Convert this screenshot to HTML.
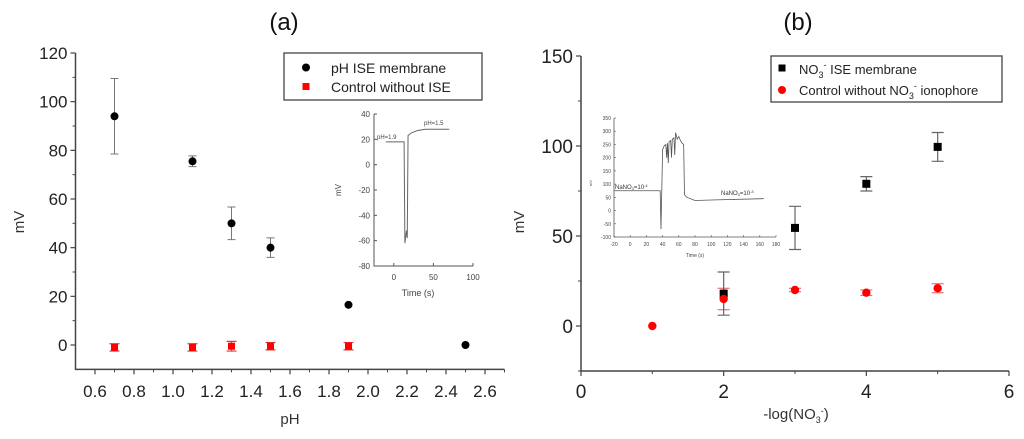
<!DOCTYPE html>
<html><head><meta charset="utf-8">
<style>
html,body{margin:0;padding:0;background:#fff;}
svg{display:block;font-family:"Liberation Sans",Arial,sans-serif;}
</style></head>
<body>
<svg id="c" width="1024" height="439" viewBox="0 0 1024 439" xmlns="http://www.w3.org/2000/svg"></svg>
<script>
// ---- Panel (a) data ----
const aX = [0.7, 1.1, 1.3, 1.5, 1.9, 2.5];
const aBlack = [94, 75.5, 50, 40, 16.5, 0];
const aBlackErr = [15.5, 2.2, 6.7, 4, 0, 0];
const aRedX = [0.7, 1.1, 1.3, 1.5, 1.9];
const aRed = [-1, -1, -0.5, -0.5, -0.5];
const aRedErr = [1.5, 1.5, 2, 1.5, 1.5];
const aYTicks = [0, 20, 40, 60, 80, 100, 120];
const aXTicks = [0.6, 0.8, 1.0, 1.2, 1.4, 1.6, 1.8, 2.0, 2.2, 2.4, 2.6];
const aInsetT = [-10, 13, 14, 16, 17, 18, 22, 30, 40, 70];
const aInsetV = [18, 18, -62, -52, -58, 23, 25, 27, 28, 28];
const aInsetYTicks = [-80, -60, -40, -20, 0, 20, 40];
const aInsetXTicks = [0, 50, 100];
// ---- Panel (b) data ----
const bBlackX = [2, 3, 4, 5];
const bBlack = [18, 54.5, 79, 99.5];
const bBlackErr = [12, 12, 4, 8];
const bRedX = [1, 2, 3, 4, 5];
const bRed = [0, 15, 20, 18.5, 21];
const bRedErr = [0, 6, 1, 1.5, 2.5];
const bYTicks = [0, 50, 100, 150];
const bXTicks = [0, 2, 4, 6];
const bInsetT = [-20, 37, 38, 40, 42, 44, 45, 46, 47, 48, 50, 51, 52, 54, 55, 56, 58, 60, 62, 64, 66, 67, 70, 80, 100, 165];
const bInsetV = [75, 75, -70, 230, 245, 250, 200, 255, 180, 260, 265, 200, 270, 275, 210, 295, 270, 280, 265, 255, 250, 60, 50, 38, 40, 45];
const bInsetYTicks = [-100, -50, 0, 50, 100, 150, 200, 250, 300, 350];
const bInsetXTicks = [-20, 0, 20, 40, 60, 80, 100, 120, 140, 160, 180];

const NS = "http://www.w3.org/2000/svg";
const svg = document.getElementById('c');
function el(tag, attrs, parent, text) {
  const e = document.createElementNS(NS, tag);
  for (const k in attrs) e.setAttribute(k, attrs[k]);
  if (text !== undefined) e.textContent = text;
  (parent || svg).appendChild(e);
  return e;
}
function lin(d0, d1, r0, r1) { return v => r0 + (v - d0) * (r1 - r0) / (d1 - d0); }

// ===== Panel (a) =====
const ax = lin(0.5, 2.7, 75.5, 504.5);
const ay = lin(0, 120, 345, 53);
let g = el('g', {});


let t = el('text', {x: 284, y: 30, 'font-size': 24, 'text-anchor': 'middle', fill: '#111'}, g, '(a)');
 
let axl = el('path', {d: `M${ax(0.5)},${ay(120)}V${ay(-10)}H${ax(2.7)}`, stroke: '#444', 'stroke-width': 1.5, fill: 'none'}, g);
 
aYTicks.forEach(v => {
  el('line', {x1: ax(0.5) - 5, x2: ax(0.5), y1: ay(v), y2: ay(v), stroke: '#444', 'stroke-width': 1.2}, g);
  if (v < 120) el('line', {x1: ax(0.5) - 3, x2: ax(0.5), y1: ay(v + 10), y2: ay(v + 10), stroke: '#444', 'stroke-width': 1}, g);
  const l = el('text', {x: ax(0.5) - 8, y: ay(v) + 6, 'font-size': 17, 'text-anchor': 'end', fill: '#222'}, g, String(v));
   
});
aXTicks.forEach(v => {
  el('line', {x1: ax(v), x2: ax(v), y1: ay(-10), y2: ay(-10) + 5, stroke: '#444', 'stroke-width': 1.2}, g);
  el('line', {x1: ax(v + 0.1), x2: ax(v + 0.1), y1: ay(-10), y2: ay(-10) + 3, stroke: '#444', 'stroke-width': 1}, g);
  const l = el('text', {x: ax(v), y: 397, 'font-size': 17, 'text-anchor': 'middle', fill: '#222'}, g, v.toFixed(1));
   
});
t = el('text', {x: 290, y: 424, 'font-size': 15, 'text-anchor': 'middle', fill: '#333'}, g, 'pH');
 
t = el('text', {x: 0, y: 0, 'font-size': 15, 'text-anchor': 'middle', fill: '#333', transform: 'translate(24,222) rotate(-90)'}, g, 'mV');
 
aX.forEach((x, i) => {
  if (aBlackErr[i] > 0) {
    const e = el('path', {d: `M${ax(x) - 4},${ay(aBlack[i] + aBlackErr[i])}h8M${ax(x)},${ay(aBlack[i] + aBlackErr[i])}V${ay(aBlack[i] - aBlackErr[i])}M${ax(x) - 4},${ay(aBlack[i] - aBlackErr[i])}h8`, stroke: '#777', 'stroke-width': 1, fill: 'none'}, g);
     
  }
  const p = el('circle', {cx: ax(x), cy: ay(aBlack[i]), r: 4, fill: '#000'}, g);
   
});
aRedX.forEach((x, i) => {
  const e = el('path', {d: `M${ax(x) - 5},${ay(aRed[i] + aRedErr[i])}h10M${ax(x)},${ay(aRed[i] + aRedErr[i])}V${ay(aRed[i] - aRedErr[i])}M${ax(x) - 5},${ay(aRed[i] - aRedErr[i])}h10`, stroke: '#e33', 'stroke-width': 1.2, fill: 'none'}, g);
   
  const p = el('rect', {x: ax(x) - 3.5, y: ay(aRed[i]) - 3.5, width: 7, height: 7, fill: '#f00'}, g);
   
});
// legend a
let lg = el('g', {}, g);
 
el('rect', {x: 284, y: 53, width: 198, height: 47, fill: '#fff', stroke: '#444', 'stroke-width': 1.3}, lg);
el('circle', {cx: 306, cy: 67.5, r: 4, fill: '#000'}, lg);
el('rect', {x: 302.5, y: 83, width: 7, height: 7, fill: '#f00'}, lg);
el('text', {x: 331, y: 73, 'font-size': 14, fill: '#222'}, lg, 'pH ISE membrane');
el('text', {x: 331, y: 92, 'font-size': 14, fill: '#222'}, lg, 'Control without ISE');
// inset a
const iax = lin(-25, 100, 374, 473);
const iay = lin(-80, 40, 266, 114);
let ig = el('g', {}, g);
 
el('path', {d: `M${iax(-25)},${iay(40)}V${iay(-80)}H${iax(100)}`, stroke: '#555', 'stroke-width': 1, fill: 'none'}, ig);
aInsetYTicks.forEach(v => {
  el('line', {x1: iax(-25), x2: iax(-25) + 3, y1: iay(v), y2: iay(v), stroke: '#555'}, ig);
  el('text', {x: iax(-25) - 4, y: iay(v) + 3, 'font-size': 8, 'text-anchor': 'end', fill: '#444'}, ig, String(v));
});
aInsetXTicks.forEach(v => {
  el('line', {x1: iax(v), x2: iax(v), y1: iay(-80), y2: iay(-80) - 3, stroke: '#555'}, ig);
  el('text', {x: iax(v), y: 280, 'font-size': 8, 'text-anchor': 'middle', fill: '#444'}, ig, String(v));
});
el('text', {x: 418, y: 296, 'font-size': 9, 'text-anchor': 'middle', fill: '#444'}, ig, 'Time (s)');
el('text', {x: 0, y: 0, 'font-size': 8, 'text-anchor': 'middle', fill: '#444', transform: 'translate(341,190) rotate(-90)'}, ig, 'mV');
let tr = el('polyline', {points: aInsetT.map((x, i) => iax(x) + ',' + iay(aInsetV[i])).join(' '), fill: 'none', stroke: '#666', 'stroke-width': 1}, ig);
 
el('text', {x: 377, y: 139, 'font-size': 6, fill: '#444'}, ig, 'pH=1.9');
el('text', {x: 424, y: 125, 'font-size': 6, fill: '#444'}, ig, 'pH=1.5');

// ===== Panel (b) =====
const bx = lin(0, 6, 581, 1009);
const by = lin(0, 150, 326, 56);
g = el('g', {});


t = el('text', {x: 798, y: 30, 'font-size': 24, 'text-anchor': 'middle', fill: '#111'}, g, '(b)');
 
axl = el('path', {d: `M${bx(0)},${by(150)}V${by(-25)}H${bx(6)}`, stroke: '#444', 'stroke-width': 1.5, fill: 'none'}, g);
 
bYTicks.forEach(v => {
  el('line', {x1: bx(0) - 5, x2: bx(0), y1: by(v), y2: by(v), stroke: '#444', 'stroke-width': 1.2}, g);
  el('line', {x1: bx(0) - 3, x2: bx(0), y1: by(v - 25), y2: by(v - 25), stroke: '#444', 'stroke-width': 1}, g);
  const l = el('text', {x: bx(0) - 8, y: by(v) + 7, 'font-size': 19, 'text-anchor': 'end', fill: '#222'}, g, String(v));
   
});
bXTicks.forEach(v => {
  el('line', {x1: bx(v), x2: bx(v), y1: by(-25), y2: by(-25) + 5, stroke: '#444', 'stroke-width': 1.2}, g);
  if (v < 6) el('line', {x1: bx(v + 1), x2: bx(v + 1), y1: by(-25), y2: by(-25) + 3, stroke: '#444', 'stroke-width': 1}, g);
  const l = el('text', {x: bx(v), y: 398, 'font-size': 19, 'text-anchor': 'middle', fill: '#222'}, g, String(v));
   
});
t = el('text', {x: 796, y: 419, 'font-size': 15, 'text-anchor': 'middle', fill: '#333'}, g);
t.innerHTML = '-log(NO<tspan font-size="9" dy="4">3</tspan><tspan font-size="9" dy="-9">-</tspan><tspan dy="5">)</tspan>';
 
t = el('text', {x: 0, y: 0, 'font-size': 15, 'text-anchor': 'middle', fill: '#333', transform: 'translate(524,222) rotate(-90)'}, g, 'mV');
 
bRedX.forEach((x, i) => {
  if (bRedErr[i] > 0) {
    const e = el('path', {d: `M${bx(x) - 6},${by(bRed[i] + bRedErr[i])}h12M${bx(x)},${by(bRed[i] + bRedErr[i])}V${by(bRed[i] - bRedErr[i])}M${bx(x) - 6},${by(bRed[i] - bRedErr[i])}h12`, stroke: '#e55', 'stroke-width': 1, fill: 'none'}, g);
     
  }
});
bBlackX.forEach((x, i) => {
  const e = el('path', {d: `M${bx(x) - 6},${by(bBlack[i] + bBlackErr[i])}h12M${bx(x)},${by(bBlack[i] + bBlackErr[i])}V${by(bBlack[i] - bBlackErr[i])}M${bx(x) - 6},${by(bBlack[i] - bBlackErr[i])}h12`, stroke: '#666', 'stroke-width': 1.2, fill: 'none'}, g);
   
  const p = el('rect', {x: bx(x) - 4, y: by(bBlack[i]) - 4, width: 8, height: 8, fill: '#000'}, g);
   
});
bRedX.forEach((x, i) => {
  const p = el('circle', {cx: bx(x), cy: by(bRed[i]), r: 4.2, fill: '#f00'}, g);
   
});
lg = el('g', {}, g);
 
el('rect', {x: 771, y: 56, width: 231, height: 46, fill: '#fff', stroke: '#444', 'stroke-width': 1.3}, lg);
el('rect', {x: 778.5, y: 64.5, width: 7, height: 7, fill: '#000'}, lg);
el('circle', {cx: 782, cy: 90, r: 4, fill: '#f00'}, lg);
let lt = el('text', {x: 799, y: 74, 'font-size': 13, fill: '#222'}, lg);
lt.innerHTML = 'NO<tspan font-size="9" dy="4">3</tspan><tspan font-size="9" dy="-10">-</tspan><tspan dy="6"> ISE membrane</tspan>';
lt = el('text', {x: 799, y: 95, 'font-size': 13, fill: '#222'}, lg);
lt.innerHTML = 'Control without NO<tspan font-size="9" dy="4">3</tspan><tspan font-size="9" dy="-10">-</tspan><tspan dy="6"> ionophore</tspan>';
// inset b
const ibx = lin(-20, 180, 614, 776);
const iby = lin(-100, 350, 237, 118);
ig = el('g', {}, g);
 
el('path', {d: `M${ibx(-20)},${iby(350)}V${iby(-100)}H${ibx(180)}`, stroke: '#555', 'stroke-width': 0.8, fill: 'none'}, ig);
bInsetYTicks.forEach(v => {
  el('line', {x1: ibx(-20), x2: ibx(-20) + 2, y1: iby(v), y2: iby(v), stroke: '#555', 'stroke-width': 0.6}, ig);
  el('text', {x: ibx(-20) - 3, y: iby(v) + 2, 'font-size': 5, 'text-anchor': 'end', fill: '#444'}, ig, String(v));
});
bInsetXTicks.forEach(v => {
  el('line', {x1: ibx(v), x2: ibx(v), y1: iby(-100), y2: iby(-100) - 2, stroke: '#555', 'stroke-width': 0.6}, ig);
  el('text', {x: ibx(v), y: 246, 'font-size': 5, 'text-anchor': 'middle', fill: '#444'}, ig, String(v));
});
el('text', {x: 695, y: 257, 'font-size': 5, 'text-anchor': 'middle', fill: '#444'}, ig, 'Time (s)');
el('text', {x: 0, y: 0, 'font-size': 4, 'text-anchor': 'middle', fill: '#444', transform: 'translate(592,183) rotate(-90)'}, ig, 'mV');
tr = el('polyline', {points: bInsetT.map((x, i) => ibx(x) + ',' + iby(bInsetV[i])).join(' '), fill: 'none', stroke: '#555', 'stroke-width': 0.8}, ig);
 
lt = el('text', {x: 615, y: 189, 'font-size': 6, fill: '#333'}, ig);
lt.innerHTML = 'NaNO<tspan font-size="4" dy="1">3</tspan><tspan dy="-1">=10</tspan><tspan font-size="4" dy="-2">-4</tspan>';
lt = el('text', {x: 721, y: 195, 'font-size': 6, fill: '#333'}, ig);
lt.innerHTML = 'NaNO<tspan font-size="4" dy="1">3</tspan><tspan dy="-1">=10</tspan><tspan font-size="4" dy="-2">-3</tspan>';
</script>
</body></html>
